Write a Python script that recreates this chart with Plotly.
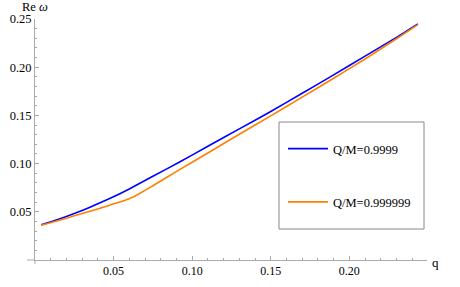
import plotly.graph_objects as go

# Data
q_blue = [0.004, 0.015, 0.025, 0.035, 0.0475, 0.06, 0.075, 0.092, 0.11, 0.13,
          0.15, 0.17, 0.19, 0.21, 0.23, 0.2436]
re_blue = [0.0365, 0.0422, 0.0482, 0.0548, 0.0637, 0.0737, 0.0868, 0.1016, 0.118, 0.136,
           0.154, 0.173, 0.192, 0.2115, 0.231, 0.245]

q_orange = [0.004, 0.015, 0.025, 0.035, 0.045, 0.0506, 0.057, 0.062, 0.066, 0.075,
            0.092, 0.11, 0.13, 0.15, 0.17, 0.19, 0.21, 0.23, 0.2436]
re_orange = [0.036, 0.041, 0.0458, 0.0505, 0.0555, 0.0585, 0.0618, 0.065, 0.0685, 0.077,
             0.0937, 0.111, 0.1305, 0.1495, 0.169, 0.1885, 0.2085, 0.2295, 0.2442]

names = ["Q/M=0.9999", "Q/M=0.999999"]
colors = ["#0000FF", "#FF8000"]

x_ticks = [0.05, 0.10, 0.15, 0.20]
x_tick_labels = ["0.05", "0.10", "0.15", "0.20"]
y_ticks = [0.05, 0.10, 0.15, 0.20, 0.25]
y_tick_labels = ["0.05", "0.10", "0.15", "0.20", "0.25"]

FONT = "'Times New Roman', 'Liberation Serif', Tinos, 'DejaVu Serif', serif"
AXC = "#AAAAAA"

fig = go.Figure()
for i, (xs, ys) in enumerate([(q_blue, re_blue), (q_orange, re_orange)]):
    fig.add_trace(go.Scatter(
        x=xs, y=ys, mode="lines", name=names[i],
        line=dict(color=colors[i], width=1.6, shape="spline", smoothing=0.6),
        legendgroup=str(i),
    ))

W, H = 460, 287
ml, mr, mt, mb = 35, 33, 19, 27
pw, ph = W - ml - mr, H - mt - mb

def px_x(p):
    return (p - ml) / pw

def px_y(p):
    return (H - mb - p) / ph

fig.update_layout(
    width=W, height=H,
    margin=dict(l=ml, r=mr, t=mt, b=mb, pad=0, autoexpand=False),
    paper_bgcolor="white", plot_bgcolor="white",
    font=dict(family=FONT, size=12, color="black"),
    showlegend=True,
    legend=dict(
        x=px_x(283), y=px_y(134), xanchor="left", yanchor="top",
        bgcolor="rgba(0,0,0,0)", borderwidth=0,
        font=dict(family=FONT, size=12.5, color="black"),
        tracegroupgap=34, traceorder="grouped", itemwidth=40,
    ),
    xaxis=dict(
        range=[0, 0.2494], showgrid=False, zeroline=False, automargin=False,
        showline=True, linecolor=AXC, linewidth=1,
        tickvals=x_ticks, ticktext=x_tick_labels,
        ticks="inside", ticklen=4, tickcolor=AXC, tickwidth=1,
        minor=dict(ticks="inside", dtick=0.01, tick0=0, ticklen=2, tickcolor=AXC, showgrid=False),
        tickfont=dict(family=FONT, size=12),
    ),
    yaxis=dict(
        range=[0, 0.25], showgrid=False, zeroline=False, automargin=False,
        showline=True, linecolor=AXC, linewidth=1,
        tickvals=y_ticks, ticktext=y_tick_labels,
        ticks="inside", ticklen=4, tickcolor=AXC, tickwidth=1,
        minor=dict(ticks="inside", dtick=0.01, tick0=0, ticklen=2, tickcolor=AXC, showgrid=False),
        tickfont=dict(family=FONT, size=12.5),
    ),
)

# legend frame
fig.add_shape(type="rect", xref="paper", yref="paper",
              x0=px_x(279), x1=px_x(424), y0=px_y(229), y1=px_y(122),
              line=dict(color="#888888", width=1), fillcolor="rgba(0,0,0,0)")
# small axis overshoots (Mathematica style)
fig.add_shape(type="line", xref="paper", yref="paper",
              x0=px_x(27), x1=0, y0=0, y1=0, line=dict(color=AXC, width=1))
fig.add_shape(type="line", xref="paper", yref="paper",
              x0=0, x1=0, y0=px_y(264), y1=0, line=dict(color=AXC, width=1))

fig.add_annotation(text="Re <i>ω</i>", xref="paper", yref="paper",
                   x=px_x(34.5), y=px_y(7), xanchor="center", yanchor="middle",
                   showarrow=False, font=dict(family=FONT, size=12.5))
fig.add_annotation(text="q", xref="paper", yref="paper",
                   x=px_x(435), y=px_y(262), xanchor="center", yanchor="middle",
                   showarrow=False, font=dict(family=FONT, size=13))

fig.write_html(
    "out.html",
    config={"displayModeBar": False},
    post_script="document.body.style.margin='0';document.body.style.overflow='hidden';",
)
